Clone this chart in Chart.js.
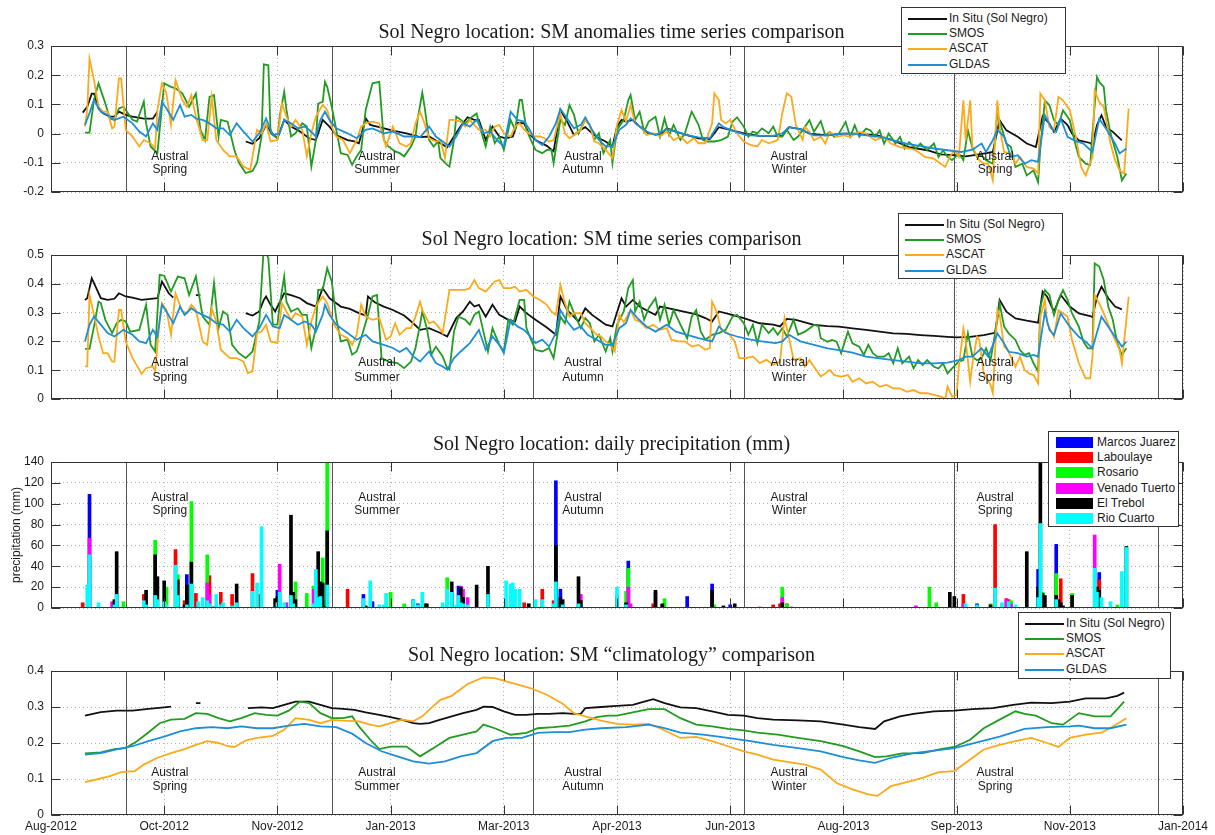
<!DOCTYPE html>
<html>
<head>
<meta charset="utf-8">
<script src="https://cdn.jsdelivr.net/npm/chart.js@4"></script>
<style>
  body { margin: 0; background: #fff; width: 1215px; height: 835px; overflow: hidden; position: relative; font-family: "Liberation Sans", Arial, sans-serif; }
  canvas { position: absolute; left: 0; }
  .title { position: absolute; left: 4px; width: 1215px; text-align: center; font-family: "Liberation Serif", "Times New Roman", serif; font-size: 20px; line-height: 22px; color: #1a1a1a; z-index: 3; }
  .legend { position: absolute; background: #fff; border: 1px solid #333; box-sizing: border-box; z-index: 5; font-size: 12px; color: #1a1a1a; }
  .legend .row { position: absolute; height: 15px; line-height: 15px; white-space: nowrap; }
  .legend .line { position: absolute; height: 2px; }
  .legend .swatch { position: absolute; height: 11px; }
</style>
</head>
<body>
<canvas id="p1" width="1215" height="200" style="top:0px"></canvas>
<canvas id="p2" width="1215" height="207" style="top:200px"></canvas>
<canvas id="p3" width="1215" height="208" style="top:408px"></canvas>
<canvas id="p4" width="1215" height="219" style="top:616px"></canvas>
<script>
// x values are days counted from 19 Aug 2012 (first tick), one tick every 50 days
const tickLabels = ['Aug-2012', 'Oct-2012', 'Nov-2012', 'Jan-2013', 'Mar-2013', 'Apr-2013',
                    'Jun-2013', 'Aug-2013', 'Sep-2013', 'Nov-2013', 'Jan-2014'];
const seasonLines = [33, 124, 213, 306, 399, 489];
const seasonLabelDays = [52.5, 144, 235, 326, 417];
const seasonNames = ['Spring', 'Summer', 'Autumn', 'Winter', 'Spring'];

const seriesNames = ['In Situ (Sol Negro)', 'SMOS', 'ASCAT', 'GLDAS'];
const seriesColors = ['#111111', '#229b22', '#fcaa1c', '#1e8ed6'];
const stationNames = ['Marcos Juarez', 'Laboulaye', 'Rosario', 'Venado Tuerto', 'El Trebol', 'Rio Cuarto'];
const stationColors = ['#0000ff', '#ff0000', '#00ff00', '#ff00ff', '#000000', '#00ffff'];

const panelTitles = ['Sol Negro location: SM anomalies time series comparison',
                     'Sol Negro location: SM time series comparison',
                     'Sol Negro location: daily precipitation (mm)',
                     'Sol Negro location: SM \u201cclimatology\u201d comparison'];

// ---- panel 1: anomalies [day, value]
const anomInSitu = [[14,0.072],[16,0.092],[18,0.137],[19,0.137],[21,0.086],[23,0.07],[26,0.058],[28,0.058],[30,0.075],[33,0.064],[36,0.058],[41,0.051],[45,0.051],[47,0.075],[48,null],[64,0.049],[65,0.049],[66,null],[86,-0.027],[89,-0.035],[92,-0.016],[95,0.03],[97,0.007],[100,-0.016],[103,0.047],[106,0.024],[110,0.007],[114,-0.016],[117,-0.022],[120,0.047],[123,0.024],[126,-0.005],[131,-0.022],[134,-0.027],[136,-0.033],[139,0.052],[141,0.03],[145,0.022],[151,0.01],[157,0.001],[163,-0.012],[167,-0.01],[172,-0.033],[175,-0.047],[178,-0.01],[181,0.026],[184,0.056],[187,0.047],[189,0.047],[192,-0.022],[195,0.024],[198,-0.01],[201,-0.016],[204,-0.01],[206,0.037],[209,0.035],[211,0.001],[214,-0.022],[219,-0.042],[222,-0.061],[225,0.081],[228,0.041],[231,-0.005],[234,0.013],[236,0.022],[239,0.001],[242,-0.016],[245,-0.027],[248,-0.044],[250,0.024],[252,0.047],[254,0.041],[257,0.047],[260,0.024],[264,0.001],[269,-0.005],[272,0.018],[276,0.007],[281,-0.005],[286,-0.016],[291,-0.019],[293,0.001],[295,0.022],[300,0.013],[306,0.001],[313,-0.008],[319,-0.008],[323,-0.008],[326,0.022],[331,0.015],[335,0],[343,-0.006],[350,0],[357,0],[365,-0.006],[372,-0.023],[379,-0.046],[387,-0.057],[393,-0.071],[399,-0.074],[404,-0.078],[410,-0.071],[416,-0.063],[419,0.046],[422,0.011],[427,-0.011],[431,-0.034],[435,-0.046],[438,0.06],[441,0.034],[443,0.006],[446,0.051],[449,0.029],[451,0],[454,-0.023],[459,-0.032],[460,-0.04],[462,0.029],[464,0.063],[466,0.023],[469,0.006],[473,-0.023]];
const anomSMOS = [[15,0.003],[17,0.003],[19,0.115],[21,0.172],[22,0.149],[24,0.103],[26,0.052],[28,0.047],[30,0.086],[32,0.092],[36,0.047],[38,0.041],[41,0.109],[42,0.035],[44,-0.044],[47,-0.067],[50,0.172],[53,0.16],[55,0.155],[58,0.138],[61,0.092],[64,0.137],[66,0.013],[68,-0.022],[70,0.126],[72,0.132],[74,-0.01],[75,0.047],[78,0.041],[81,-0.056],[83,-0.1],[86,-0.135],[89,-0.128],[91,-0.1],[93,-0.01],[94,0.237],[96,0.234],[97,0.001],[100,-0.016],[101,0.058],[103,0.143],[104,0.081],[106,-0.01],[108,0.001],[111,0.035],[113,0.024],[115,-0.113],[117,-0.022],[118,0.103],[120,0.109],[121,0.177],[122,0.16],[124,0.092],[126,0.013],[128,-0.067],[131,-0.073],[133,-0.107],[135,-0.078],[137,-0.056],[139,0.081],[142,0.172],[145,0.177],[147,-0.022],[149,-0.044],[152,-0.061],[154,-0.067],[156,-0.078],[159,-0.044],[161,-0.01],[162,0.052],[164,0.14],[165,0.092],[167,-0.022],[169,-0.044],[171,-0.027],[172,-0.084],[175,-0.107],[176,-0.113],[178,-0.022],[179,0.058],[181,0.047],[183,0.035],[186,0.058],[188,0.069],[190,0.007],[192,-0.044],[194,0.024],[196,-0.033],[198,-0.01],[200,-0.056],[203,0.047],[205,0.013],[207,0.115],[208,0.115],[210,0.013],[212,-0.022],[214,-0.056],[217,-0.067],[219,-0.056],[221,-0.056],[222,-0.101],[225,0.047],[227,0.03],[229,0.098],[231,0.064],[233,0.001],[236,0.047],[238,0.03],[240,-0.022],[242,0.001],[244,-0.067],[247,-0.022],[248,-0.101],[250,0.013],[253,0.047],[255,0.115],[256,0.132],[258,0.047],[260,0.075],[262,0.007],[264,0.041],[267,0.058],[269,-0.01],[271,0.052],[273,-0.005],[275,0.03],[278,-0.022],[280,0.001],[282,0.052],[283,0.075],[286,0.03],[288,-0.022],[290,-0.027],[293,-0.027],[296,-0.022],[299,-0.01],[301,0.041],[303,0.056],[306,0.024],[308,-0.01],[310,0.007],[312,0.001],[314,0.018],[317,0.001],[319,0.024],[321,-0.01],[323,-0.01],[325,0.013],[328,-0.022],[330,-0.01],[333,0.023],[335,0.046],[337,0.006],[340,0.043],[342,-0.006],[344,0.006],[346,-0.011],[348,0],[351,0.04],[353,-0.011],[355,0.029],[357,-0.011],[360,0.017],[362,0.011],[364,-0.011],[366,0.011],[368,-0.034],[370,0],[373,-0.034],[375,-0.011],[377,-0.051],[379,-0.029],[382,-0.051],[384,-0.034],[387,-0.057],[390,-0.034],[392,-0.08],[394,-0.057],[396,-0.08],[398,-0.091],[401,-0.068],[403,-0.091],[405,0.011],[407,-0.051],[409,-0.08],[411,-0.074],[413,-0.091],[416,-0.103],[418,0.068],[420,0.017],[422,-0.034],[424,-0.046],[426,-0.114],[429,-0.103],[431,-0.143],[434,-0.126],[436,-0.166],[437,-0.046],[439,0.114],[441,0.097],[443,0.046],[445,0.029],[447,0.08],[450,0.046],[452,-0.023],[454,-0.08],[457,-0.103],[459,-0.108],[460,0],[462,0.194],[463,0.177],[465,0.16],[466,0.08],[468,0],[471,-0.08],[473,-0.16],[475,-0.137]];
const anomASCAT = [[15,0.024],[16,0.081],[17,0.257],[19,0.183],[21,0.092],[23,0.075],[25,0.075],[27,0.018],[28,0.024],[30,0.189],[31,0.189],[33,0.013],[36,-0.01],[39,-0.044],[41,-0.022],[44,-0.033],[46,-0.05],[47,0.081],[49,0.172],[51,0.137],[53,0.03],[55,0.183],[58,0.115],[60,0.092],[62,0.132],[64,0.058],[67,-0.022],[69,-0.022],[71,0.126],[73,-0.022],[76,-0.056],[79,-0.078],[82,-0.078],[85,-0.113],[88,-0.124],[91,0.013],[93,0.001],[95,0.035],[97,-0.027],[100,-0.022],[102,0.103],[104,0.058],[106,0.024],[108,0.047],[111,0.013],[113,-0.078],[115,0.001],[117,0.058],[120,0.098],[122,0.081],[124,0.024],[126,-0.01],[129,-0.022],[132,-0.067],[135,-0.022],[137,0.024],[139,0.035],[142,0.041],[145,0.035],[148,-0.044],[151,0.024],[154,-0.033],[157,-0.044],[159,-0.033],[161,0.035],[163,0.075],[165,0.035],[167,-0.016],[170,-0.027],[172,-0.022],[174,-0.084],[176,0.047],[178,0.047],[181,0.041],[183,0.024],[185,0.047],[187,0.03],[189,0.013],[192,0.013],[194,-0.01],[196,0.024],[198,0.03],[200,0.001],[203,-0.01],[205,0.024],[207,0.035],[209,0.013],[211,0.001],[214,-0.01],[216,-0.01],[218,-0.016],[220,-0.027],[222,-0.022],[225,0.069],[227,0.001],[229,-0.016],[231,-0.005],[234,0.013],[236,0.047],[238,0.03],[240,-0.027],[242,-0.033],[245,-0.056],[248,-0.084],[250,0.03],[252,0.081],[254,0.041],[256,0.098],[258,0.035],[261,0.018],[263,-0.005],[266,0.001],[269,-0.01],[272,0.007],[275,-0.022],[278,-0.01],[281,-0.033],[284,-0.016],[286,-0.033],[289,-0.033],[292,0.035],[293,0.138],[295,0.115],[296,0.047],[298,0.035],[300,0.047],[303,0.001],[306,-0.027],[309,-0.039],[312,-0.044],[314,-0.022],[317,-0.033],[321,-0.022],[323,0.069],[325,0.138],[327,0.126],[329,0.03],[332,-0.022],[333,0.023],[335,0.006],[337,-0.023],[340,-0.011],[342,-0.034],[344,0.006],[347,-0.011],[350,-0.006],[353,-0.011],[357,0.006],[360,0],[364,-0.023],[368,-0.011],[371,-0.034],[375,-0.046],[379,-0.051],[382,-0.057],[386,-0.08],[390,-0.086],[393,-0.103],[395,-0.114],[397,-0.08],[399,-0.057],[401,-0.08],[403,0.114],[404,-0.023],[406,0.114],[407,-0.046],[410,-0.091],[412,-0.103],[414,-0.103],[416,-0.16],[418,0.114],[419,0.023],[421,-0.063],[424,-0.068],[426,-0.103],[428,-0.08],[431,-0.114],[434,-0.12],[436,-0.137],[437,0.137],[439,0.114],[441,0.023],[443,0.011],[445,0.126],[447,0.114],[450,0.08],[453,-0.023],[455,-0.114],[457,-0.143],[460,-0.08],[461,0.148],[463,0.108],[465,0.091],[468,-0.034],[470,-0.091],[472,-0.126],[474,-0.137],[476,0.086]];
const anomGLDAS = [[15,0.03],[17,0.07],[19,0.115],[22,0.075],[25,0.064],[28,0.047],[32,0.058],[36,0.035],[39,0.007],[42,-0.01],[45,0.035],[47,0.013],[49,0.109],[51,0.086],[54,0.047],[57,0.098],[59,0.058],[62,0.064],[64,0.052],[67,0.047],[70,0.035],[73,0.018],[76,0.018],[79,-0.005],[82,0.035],[85,0.007],[89,-0.027],[92,0.001],[95,0.052],[98,-0.005],[101,0.001],[103,0.047],[106,0.035],[109,0.018],[112,0.024],[114,0.013],[117,-0.01],[119,0.047],[121,0.075],[123,0.047],[126,0.018],[131,0.001],[135,-0.016],[139,0.013],[142,0.018],[147,0.001],[151,0.007],[156,-0.01],[160,-0.01],[163,-0.013],[167,0.024],[170,-0.01],[174,-0.033],[176,-0.044],[179,-0.01],[182,0.035],[185,0.024],[188,0.047],[191,0.001],[194,0.007],[197,-0.022],[200,-0.044],[202,0.035],[203,0.075],[206,0.047],[209,0.041],[211,0.018],[214,-0.022],[217,-0.039],[220,-0.01],[223,0.035],[225,0.084],[228,0.052],[231,0.018],[234,0.03],[236,0.056],[239,0.013],[242,-0.022],[245,-0.044],[248,-0.044],[251,0.013],[254,0.03],[256,0.052],[259,0.03],[263,0.007],[267,-0.005],[272,0.015],[276,0.007],[281,-0.005],[286,-0.013],[291,-0.016],[295,0.035],[297,0.022],[301,0.01],[307,-0.005],[313,-0.008],[319,-0.008],[323,0.001],[326,0.022],[331,0.015],[337,-0.006],[343,-0.006],[349,0],[354,0],[360,-0.006],[366,-0.011],[372,-0.023],[378,-0.034],[384,-0.043],[390,-0.051],[396,-0.057],[402,-0.063],[407,-0.055],[411,-0.034],[413,-0.063],[416,-0.023],[418,0.014],[421,-0.011],[424,-0.08],[427,-0.074],[430,-0.103],[433,-0.091],[436,-0.097],[439,0.063],[442,0.017],[444,0.006],[446,0.051],[449,-0.011],[452,-0.023],[456,-0.034],[460,-0.063],[463,0.051],[466,0.017],[470,-0.034],[472,-0.068],[475,-0.051]];

// ---- panel 2: soil moisture [day, value]
const smInSitu = [[15,0.344],[16,0.35],[18,0.419],[20,0.385],[22,0.35],[25,0.344],[28,0.348],[30,0.367],[33,0.356],[36,0.352],[40,0.344],[44,0.348],[47,0.35],[49,0.408],[52,0.367],[54,0.352],[55,null],[64,0.361],[66,0.361],[67,null],[86,0.298],[89,0.29],[92,0.304],[94,0.344],[95,0.356],[97,0.327],[99,0.304],[103,0.367],[106,0.361],[110,0.35],[113,0.333],[117,0.321],[120,0.385],[123,0.35],[128,0.321],[132,0.313],[136,0.298],[139,0.29],[140,0.356],[143,0.336],[147,0.321],[151,0.309],[156,0.29],[160,0.263],[163,0.24],[167,0.246],[172,0.229],[175,0.217],[179,0.281],[182,0.304],[185,0.338],[187,0.321],[189,0.327],[192,0.286],[195,0.327],[198,0.292],[202,0.275],[205,0.269],[207,0.321],[210,0.298],[214,0.275],[219,0.248],[223,0.223],[225,0.356],[228,0.309],[233,0.269],[236,0.315],[239,0.292],[242,0.275],[245,0.258],[248,0.252],[252,0.35],[254,0.321],[257,0.344],[260,0.321],[264,0.304],[267,0.292],[269,0.321],[273,0.315],[279,0.304],[285,0.294],[289,0.281],[292,0.269],[295,0.304],[300,0.294],[306,0.281],[313,0.263],[319,0.258],[322,0.252],[325,0.278],[329,0.275],[337,0.257],[343,0.253],[348,0.251],[354,0.245],[360,0.24],[366,0.234],[372,0.228],[378,0.226],[384,0.222],[390,0.219],[396,0.216],[400,0.214],[406,0.216],[412,0.222],[417,0.23],[419,0.344],[422,0.303],[426,0.28],[431,0.272],[436,0.265],[438,0.373],[440,0.355],[443,0.303],[446,0.361],[450,0.321],[454,0.297],[459,0.288],[460,0.284],[462,0.355],[464,0.39],[467,0.35],[470,0.321],[473,0.311]];
const smSMOS = [[15,0.174],[17,0.174],[19,0.252],[21,0.338],[22,0.333],[24,0.275],[27,0.229],[29,0.263],[31,0.275],[33,0.269],[35,0.234],[39,0.24],[42,0.327],[44,0.188],[46,0.165],[48,0.431],[50,0.428],[53,0.373],[56,0.425],[59,0.419],[61,0.361],[64,0.425],[67,0.286],[70,0.258],[72,0.402],[74,0.246],[76,0.304],[78,0.292],[80,0.188],[83,0.159],[86,0.142],[89,0.165],[92,0.269],[94,0.53],[96,0.488],[98,0.258],[100,0.258],[101,0.327],[103,0.425],[104,0.338],[106,0.304],[109,0.315],[111,0.292],[113,0.292],[115,0.177],[117,0.246],[118,0.379],[120,0.379],[122,0.454],[124,0.408],[126,0.281],[128,0.2],[131,0.206],[133,0.154],[135,0.165],[137,0.211],[140,0.292],[142,0.356],[144,0.361],[146,0.142],[149,0.13],[153,0.125],[156,0.107],[159,0.13],[161,0.177],[163,0.258],[164,0.304],[166,0.246],[168,0.154],[170,0.182],[173,0.148],[175,0.107],[176,0.102],[178,0.234],[180,0.286],[183,0.275],[185,0.258],[187,0.292],[189,0.304],[191,0.234],[193,0.165],[195,0.246],[198,0.188],[200,0.165],[202,0.275],[204,0.258],[207,0.344],[209,0.344],[210,0.246],[212,0.206],[214,0.171],[217,0.165],[220,0.177],[222,0.142],[225,0.286],[227,0.263],[229,0.338],[231,0.298],[234,0.246],[236,0.281],[238,0.263],[240,0.2],[242,0.223],[245,0.165],[247,0.211],[248,0.165],[250,0.258],[253,0.304],[255,0.385],[257,0.413],[258,0.304],[260,0.338],[262,0.275],[264,0.315],[267,0.35],[269,0.275],[271,0.327],[273,0.258],[275,0.309],[278,0.258],[281,0.211],[283,0.286],[285,0.309],[287,0.234],[289,0.206],[292,0.223],[295,0.229],[298,0.24],[301,0.286],[303,0.292],[306,0.263],[308,0.223],[310,0.258],[312,0.194],[314,0.258],[317,0.229],[319,0.246],[321,0.223],[323,0.246],[325,0.217],[328,0.275],[330,0.223],[333,0.234],[335,0.245],[337,0.257],[339,0.253],[340,0.211],[343,0.199],[345,0.205],[347,0.199],[349,0.159],[352,0.234],[354,0.193],[357,0.182],[359,0.153],[361,0.188],[363,0.159],[365,0.147],[368,0.147],[370,0.159],[372,0.124],[374,0.176],[376,0.124],[379,0.147],[381,0.106],[383,0.135],[385,0.118],[387,0.135],[390,0.112],[392,0.106],[394,0.124],[396,0.089],[398,0.106],[401,0.13],[403,0.135],[405,0.228],[407,0.147],[409,0.135],[411,0.141],[413,0.176],[415,0.135],[418,0.274],[419,0.332],[421,0.251],[423,0.228],[426,0.205],[428,0.17],[430,0.153],[432,0.159],[434,0.124],[436,0.095],[437,0.321],[439,0.378],[441,0.361],[443,0.292],[445,0.344],[447,0.378],[449,0.344],[451,0.297],[454,0.251],[456,0.199],[458,0.176],[460,0.176],[461,0.471],[463,0.46],[465,0.413],[467,0.321],[469,0.274],[471,0.193],[473,0.153],[475,0.176]];
const smASCAT = [[15,0.113],[16,0.113],[17,0.361],[19,0.292],[21,0.217],[23,0.159],[25,0.159],[27,0.13],[28,0.13],[30,0.309],[31,0.309],[33,0.2],[36,0.142],[39,0.102],[40,0.087],[42,0.107],[45,0.113],[46,0.096],[48,0.275],[49,0.333],[51,0.309],[53,0.223],[55,0.367],[58,0.304],[60,0.298],[62,0.327],[64,0.309],[67,0.2],[69,0.188],[71,0.315],[73,0.269],[75,0.171],[79,0.142],[82,0.142],[85,0.13],[87,0.09],[89,0.096],[91,0.229],[93,0.234],[95,0.258],[97,0.2],[100,0.194],[102,0.333],[104,0.304],[106,0.275],[108,0.298],[111,0.286],[113,0.188],[115,0.269],[117,0.321],[120,0.356],[122,0.333],[125,0.258],[128,0.223],[131,0.211],[133,0.188],[135,0.223],[137,0.327],[139,0.286],[142,0.275],[145,0.281],[148,0.206],[150,0.217],[152,0.263],[154,0.223],[157,0.246],[159,0.246],[161,0.286],[163,0.338],[164,0.309],[167,0.263],[169,0.269],[171,0.252],[173,0.229],[176,0.379],[179,0.379],[183,0.379],[185,0.385],[187,0.413],[189,0.385],[192,0.373],[194,0.39],[196,0.408],[198,0.413],[200,0.385],[203,0.385],[205,0.39],[207,0.373],[210,0.379],[213,0.356],[216,0.344],[219,0.327],[221,0.304],[223,0.292],[225,0.396],[227,0.333],[229,0.286],[231,0.298],[234,0.298],[236,0.263],[239,0.24],[241,0.223],[243,0.217],[245,0.2],[247,0.188],[249,0.165],[251,0.292],[253,0.266],[256,0.309],[258,0.275],[260,0.269],[263,0.246],[266,0.258],[269,0.24],[272,0.246],[274,0.206],[277,0.2],[280,0.2],[283,0.182],[286,0.188],[289,0.171],[291,0.177],[292,0.338],[294,0.304],[296,0.24],[299,0.229],[302,0.2],[304,0.142],[307,0.142],[310,0.148],[313,0.125],[316,0.136],[319,0.119],[322,0.13],[324,0.281],[326,0.211],[328,0.136],[331,0.141],[333,0.112],[335,0.135],[337,0.112],[340,0.078],[342,0.089],[344,0.101],[346,0.083],[349,0.078],[352,0.083],[354,0.06],[357,0.072],[360,0.054],[363,0.06],[366,0.043],[369,0.049],[372,0.037],[375,0.037],[378,0.025],[381,0.031],[384,0.02],[387,0.02],[390,0.014],[393,0.008],[395,0],[396,0.043],[398,0.008],[400,0.014],[401,0.112],[403,0.245],[404,0.205],[406,0.06],[407,0.124],[409,0.216],[410,0.205],[412,0.089],[415,0.049],[416,0.02],[418,0.309],[419,0.292],[421,0.182],[423,0.164],[426,0.112],[428,0.147],[430,0.101],[432,0.089],[434,0.083],[436,0.054],[437,0.286],[439,0.344],[440,0.263],[443,0.216],[445,0.309],[447,0.297],[449,0.286],[451,0.205],[454,0.124],[457,0.072],[459,0.072],[460,0.147],[461,0.361],[463,0.332],[465,0.297],[468,0.24],[470,0.205],[472,0.17],[473,0.124],[476,0.355]];
const smGLDAS = [[15,0.2],[17,0.258],[19,0.286],[22,0.258],[25,0.229],[28,0.217],[32,0.24],[36,0.223],[39,0.2],[42,0.194],[45,0.24],[47,0.217],[49,0.327],[51,0.304],[54,0.263],[57,0.321],[59,0.292],[62,0.315],[64,0.304],[67,0.292],[70,0.281],[73,0.263],[76,0.258],[79,0.234],[82,0.275],[85,0.246],[89,0.217],[92,0.246],[95,0.292],[98,0.252],[101,0.246],[103,0.292],[106,0.275],[109,0.258],[112,0.269],[115,0.258],[117,0.234],[120,0.292],[121,0.327],[123,0.292],[126,0.258],[131,0.229],[135,0.206],[139,0.223],[142,0.2],[147,0.188],[151,0.177],[154,0.163],[157,0.177],[160,0.148],[163,0.13],[167,0.165],[170,0.125],[173,0.113],[175,0.102],[178,0.142],[181,0.165],[185,0.194],[189,0.24],[192,0.171],[195,0.217],[198,0.188],[200,0.159],[203,0.275],[206,0.252],[209,0.24],[211,0.223],[214,0.194],[217,0.206],[220,0.182],[223,0.229],[225,0.309],[228,0.269],[231,0.24],[234,0.252],[237,0.223],[241,0.206],[245,0.188],[248,0.188],[251,0.246],[254,0.263],[256,0.309],[259,0.281],[263,0.252],[267,0.234],[272,0.258],[276,0.234],[281,0.223],[286,0.211],[292,0.2],[295,0.252],[298,0.229],[303,0.217],[309,0.206],[314,0.2],[320,0.194],[323,0.2],[326,0.223],[331,0.2],[337,0.188],[343,0.176],[348,0.17],[354,0.161],[360,0.147],[366,0.141],[372,0.135],[378,0.13],[384,0.124],[390,0.124],[396,0.126],[401,0.135],[404,0.147],[407,0.147],[411,0.176],[414,0.147],[418,0.228],[421,0.193],[423,0.164],[427,0.159],[431,0.147],[434,0.153],[436,0.147],[439,0.303],[441,0.24],[443,0.222],[446,0.297],[450,0.251],[454,0.216],[457,0.199],[460,0.176],[464,0.286],[467,0.251],[470,0.216],[473,0.182],[475,0.199]];

// ---- panel 3: daily precipitation per station [day, mm]
const precipMarcosJuarez = [[17,109],[60,32],[100,17],[138,13],[142,6],[160,8],[162,4],[180,21],[223,122],[225,18],[255,45],[281,11],[292,23],[300,3],[409,4],[436,37],[444,61],[463,34]];
const precipLaboulaye = [[14,5],[41,13],[55,56],[59,7],[64,14],[70,31],[75,15],[80,13],[89,33],[92,13],[131,18],[203,6],[209,5],[217,18],[222,7],[266,4],[319,3],[322,4],[325,4],[403,13],[417,80],[422,9],[423,8],[446,28],[463,27]];
const precipRosario = [[32,6],[42,2],[46,65],[51,20],[56,32],[62,102],[69,51],[108,25],[113,14],[116,21],[120,48],[121,7],[122,145],[150,15],[156,4],[175,29],[211,4],[254,16],[255,38],[271,9],[293,3],[323,20],[325,4],[388,20],[391,5],[415,4],[423,5],[424,7],[438,15],[444,33],[451,14],[471,3]];
const precipVenadoTuerto = [[17,67],[27,6],[69,24],[70,13],[101,42],[104,5],[116,18],[181,21],[182,18],[184,10],[234,13],[250,12],[255,20],[256,4],[267,15],[270,3],[313,1],[323,10],[327,1],[382,2],[403,4],[422,8],[424,4],[461,70]];
const precipElTrebol = [[28,8],[29,54],[42,17],[46,51],[47,30],[50,26],[56,27],[59,3],[60,22],[62,44],[72,1],[82,23],[99,9],[100,11],[106,89],[107,15],[108,8],[117,5],[118,54],[119,25],[120,24],[121,2],[122,74],[139,2],[165,4],[166,4],[177,25],[181,20],[182,10],[188,22],[193,40],[211,4],[223,60],[225,10],[226,8],[233,30],[234,7],[250,10],[254,5],[267,17],[270,4],[292,17],[297,2],[302,4],[323,5],[397,15],[399,11],[409,3],[415,3],[431,54],[436,20],[437,145],[438,14],[439,12],[444,12],[445,8],[446,5],[447,2],[451,12],[462,20],[463,17],[475,59]];
const precipRioCuarto = [[16,22],[17,51],[21,5],[28,3],[29,13],[41,7],[42,3],[46,12],[47,8],[50,6],[51,3],[55,41],[56,12],[60,3],[62,23],[65,6],[67,10],[69,7],[70,4],[73,13],[75,3],[76,5],[80,2],[82,5],[89,16],[91,24],[93,78],[100,5],[101,15],[103,5],[106,12],[107,4],[116,4],[117,37],[118,10],[119,11],[122,22],[138,9],[141,26],[145,3],[147,3],[148,14],[160,8],[162,3],[164,15],[173,5],[175,18],[177,15],[179,3],[180,12],[181,5],[182,4],[184,3],[193,13],[201,26],[203,23],[204,24],[205,18],[207,18],[214,8],[217,8],[222,4],[223,25],[226,3],[233,4],[250,20],[254,3],[404,4],[409,3],[417,19],[420,5],[423,6],[426,3],[436,10],[437,81],[444,8],[461,38],[462,15],[464,10],[468,6],[473,35],[475,58]];

// ---- panel 4: climatology [day, value]
const climInSitu = [[15,0.276],[22,0.286],[29,0.29],[36,0.29],[43,0.295],[50,0.299],[53,0.301],[54,null],[64,0.311],[66,0.311],[67,null],[87,0.297],[93,0.299],[98,0.297],[103,0.306],[108,0.315],[114,0.315],[119,0.306],[124,0.297],[129,0.295],[134,0.292],[139,0.285],[145,0.278],[150,0.272],[155,0.265],[160,0.255],[163,0.253],[167,0.255],[172,0.265],[177,0.274],[182,0.283],[188,0.292],[191,0.301],[195,0.3],[200,0.288],[205,0.278],[210,0.278],[215,0.281],[220,0.281],[226,0.283],[231,0.281],[234,0.281],[236,0.297],[243,0.3],[250,0.303],[257,0.306],[262,0.315],[266,0.322],[271,0.311],[278,0.299],[285,0.297],[292,0.288],[299,0.278],[306,0.276],[312,0.269],[319,0.265],[330,0.263],[340,0.26],[350,0.251],[357,0.244],[364,0.239],[368,0.26],[375,0.274],[381,0.281],[390,0.288],[399,0.29],[407,0.294],[416,0.297],[425,0.306],[433,0.312],[442,0.311],[450,0.315],[457,0.324],[466,0.324],[471,0.331],[474,0.34]];
const climSMOS = [[15,0.171],[22,0.174],[28,0.183],[33,0.186],[38,0.205],[43,0.229],[48,0.255],[53,0.265],[59,0.267],[64,0.283],[69,0.281],[74,0.269],[79,0.26],[84,0.269],[90,0.283],[95,0.278],[100,0.276],[105,0.29],[110,0.315],[114,0.311],[119,0.283],[124,0.269],[129,0.269],[133,0.274],[136,0.246],[141,0.209],[145,0.183],[150,0.19],[157,0.19],[163,0.163],[169,0.186],[176,0.214],[182,0.223],[188,0.232],[191,0.251],[196,0.241],[203,0.223],[210,0.228],[215,0.241],[222,0.244],[229,0.248],[236,0.26],[241,0.272],[246,0.276],[250,0.276],[257,0.285],[264,0.294],[271,0.294],[278,0.269],[285,0.251],[292,0.246],[299,0.239],[306,0.235],[312,0.229],[321,0.223],[330,0.214],[340,0.205],[350,0.191],[357,0.177],[364,0.161],[369,0.163],[376,0.171],[385,0.172],[393,0.183],[399,0.189],[406,0.209],[412,0.241],[419,0.265],[426,0.288],[430,0.281],[435,0.276],[442,0.255],[447,0.251],[454,0.283],[461,0.274],[468,0.274],[471,0.294],[474,0.315]];
const climASCAT = [[15,0.091],[21,0.1],[26,0.108],[31,0.119],[37,0.122],[41,0.14],[47,0.159],[53,0.172],[59,0.183],[64,0.195],[69,0.205],[74,0.2],[78,0.191],[81,0.189],[86,0.207],[91,0.214],[98,0.22],[103,0.237],[108,0.269],[114,0.264],[119,0.255],[124,0.264],[129,0.262],[136,0.26],[141,0.251],[145,0.246],[150,0.255],[155,0.265],[160,0.26],[164,0.274],[167,0.292],[172,0.32],[177,0.331],[184,0.364],[191,0.382],[196,0.38],[201,0.371],[207,0.361],[212,0.352],[219,0.334],[226,0.309],[231,0.283],[236,0.274],[243,0.262],[250,0.253],[257,0.251],[264,0.253],[269,0.241],[278,0.214],[285,0.217],[292,0.205],[299,0.191],[306,0.177],[312,0.168],[319,0.154],[326,0.147],[333,0.14],[340,0.126],[347,0.089],[354,0.071],[361,0.057],[365,0.053],[371,0.08],[378,0.091],[385,0.103],[392,0.119],[399,0.122],[406,0.154],[412,0.182],[419,0.195],[426,0.205],[433,0.214],[440,0.2],[445,0.189],[450,0.214],[457,0.223],[464,0.229],[469,0.246],[475,0.269]];
const climGLDAS = [[15,0.168],[22,0.172],[29,0.182],[36,0.191],[43,0.205],[50,0.218],[57,0.232],[64,0.241],[71,0.244],[78,0.241],[84,0.246],[91,0.241],[98,0.241],[105,0.248],[112,0.253],[119,0.246],[126,0.244],[133,0.226],[139,0.2],[146,0.177],[153,0.163],[160,0.149],[167,0.143],[174,0.149],[181,0.163],[188,0.172],[195,0.205],[201,0.214],[208,0.214],[215,0.228],[222,0.23],[229,0.23],[236,0.237],[243,0.241],[254,0.244],[264,0.251],[271,0.241],[278,0.229],[288,0.223],[299,0.214],[309,0.205],[319,0.195],[330,0.186],[340,0.177],[350,0.161],[357,0.152],[364,0.145],[371,0.159],[381,0.172],[392,0.18],[399,0.186],[409,0.202],[419,0.218],[430,0.239],[440,0.244],[450,0.246],[454,0.248],[461,0.241],[468,0.241],[475,0.251]];

const FONT = '"Liberation Sans", Arial, sans-serif';

function xy(arr) {
    return arr.map(p => ({ x: p[0], y: p[1] }));
}

// box, season lines, season labels and inward ticks like the matlab original
const matlabFrame = {
    id: 'matlabFrame',
    beforeDatasetsDraw(chart) {
        const { ctx, chartArea: a, scales: { x } } = chart;
        ctx.save();
        ctx.strokeStyle = '#555';
        ctx.lineWidth = 1;
        seasonLines.forEach(d => {
            const px = Math.round(x.getPixelForValue(d)) + 0.5;
            ctx.beginPath();
            ctx.moveTo(px, a.top);
            ctx.lineTo(px, a.bottom);
            ctx.stroke();
        });
        ctx.restore();
    },
    afterDatasetsDraw(chart, args, opts) {
        const { ctx, chartArea: a, scales: { x, y } } = chart;
        ctx.save();
        ctx.font = '12px ' + FONT;
        ctx.fillStyle = '#1a1a1a';
        ctx.textAlign = 'center';
        ctx.textBaseline = 'middle';
        seasonLabelDays.forEach((d, i) => {
            const px = x.getPixelForValue(d);
            ctx.fillText('Austral', px, y.getPixelForValue(opts.labelY[0]));
            ctx.fillText(seasonNames[i], px, y.getPixelForValue(opts.labelY[1]));
        });

        const L = Math.round(a.left) + 0.5, R = Math.round(a.right) - 0.5;
        const T = Math.round(a.top) + 0.5, B = Math.round(a.bottom) - 0.5;
        ctx.strokeStyle = '#333';
        ctx.lineWidth = 1;
        ctx.strokeRect(L, T, R - L, B - T);
        const tl = 9;
        ctx.beginPath();
        x.ticks.forEach(t => {
            const px = Math.round(x.getPixelForValue(t.value)) + 0.5;
            ctx.moveTo(px, T); ctx.lineTo(px, T + tl);
            ctx.moveTo(px, B); ctx.lineTo(px, B - tl);
        });
        y.ticks.forEach(t => {
            const py = Math.round(y.getPixelForValue(t.value)) + 0.5;
            ctx.moveTo(L, py); ctx.lineTo(L + tl, py);
            ctx.moveTo(R, py); ctx.lineTo(R - tl, py);
        });
        ctx.stroke();
        ctx.restore();
    }
};

function makePanel(id, type, datasets, cfg) {
    const grid = { color: '#b4b4b4', lineWidth: 1, drawTicks: false, offset: false };
    return new Chart(document.getElementById(id), {
        type: type,
        data: { datasets: datasets },
        options: {
            responsive: false,
            animation: false,
            devicePixelRatio: 1,
            layout: { padding: { top: cfg.padTop, right: 32, left: 0, bottom: 0 } },
            plugins: {
                legend: { display: false },
                tooltip: { enabled: false },
                matlabFrame: { labelY: cfg.labelY }
            },
            scales: {
                x: {
                    type: 'linear', min: 0, max: 500, offset: false,
                    afterFit: s => { s.height = cfg.xAxisH; s.paddingLeft = 0; s.paddingRight = 0; },
                    ticks: {
                        stepSize: 50, autoSkip: false, maxRotation: 0, display: cfg.showX, padding: 4,
                        color: '#1a1a1a', font: { family: FONT, size: 12 },
                        callback: (v, i) => tickLabels[i]
                    },
                    grid: grid,
                    border: { display: false, dash: [1, 3] }
                },
                y: {
                    min: cfg.yMin, max: cfg.yMax,
                    afterFit: s => { s.width = 51; s.paddingTop = 0; s.paddingBottom = 0; },
                    ticks: {
                        stepSize: cfg.yStep, padding: 7, color: '#1a1a1a', font: { family: FONT, size: 12 },
                        callback: v => String(+v.toFixed(1))
                    },
                    title: cfg.yTitle ? {
                        display: true, text: cfg.yTitle, color: '#1a1a1a',
                        font: { family: FONT, size: 12 }, padding: { top: 9, bottom: 0 }
                    } : { display: false },
                    grid: grid,
                    border: { display: false, dash: [1, 3] }
                }
            }
        },
        plugins: [matlabFrame]
    });
}

function lineSets(series) {
    return series.map((arr, i) => ({
        label: seriesNames[i],
        data: xy(arr),
        borderColor: seriesColors[i],
        borderWidth: 1.8,
        pointRadius: 0,
        tension: 0,
        spanGaps: false,
        fill: false,
        order: series.length - i
    }));
}

const stations = [precipMarcosJuarez, precipLaboulaye, precipRosario, precipVenadoTuerto, precipElTrebol, precipRioCuarto];
const precipSets = stations.map((arr, i) => ({
    label: stationNames[i],
    data: xy(arr),
    backgroundColor: stationColors[i],
    borderWidth: 0,
    barThickness: 3,
    grouped: false,
    order: stations.length - i
}));

makePanel('p1', 'line', lineSets([anomInSitu, anomSMOS, anomASCAT, anomGLDAS]),
    { padTop: 46, xAxisH: 8, showX: false, yMin: -0.2, yMax: 0.3, yStep: 0.1, labelY: [-0.079, -0.124] });
makePanel('p2', 'line', lineSets([smInSitu, smSMOS, smASCAT, smGLDAS]),
    { padTop: 55, xAxisH: 8, showX: false, yMin: 0, yMax: 0.5, yStep: 0.1, labelY: [0.127, 0.075] });
makePanel('p3', 'bar', precipSets,
    { padTop: 54, xAxisH: 8, showX: false, yMin: 0, yMax: 140, yStep: 20, labelY: [106, 93], yTitle: 'precipitation (mm)' });
makePanel('p4', 'line', lineSets([climInSitu, climSMOS, climASCAT, climGLDAS]),
    { padTop: 55, xAxisH: 20, showX: true, yMin: 0, yMax: 0.4, yStep: 0.1, labelY: [0.117, 0.078] });

// titles
const titleCenters = [31, 238, 443, 654];
panelTitles.forEach((t, i) => {
    const d = document.createElement('div');
    d.className = 'title';
    d.style.top = (titleCenters[i] - 11) + 'px';
    d.textContent = t;
    document.body.appendChild(d);
});

// legends
const legendBoxes = [
    { left: 901, top: 7, width: 165, height: 67, kind: 'line' },
    { left: 898, top: 213, width: 165, height: 66, kind: 'line' },
    { left: 1048, top: 431, width: 131, height: 96, kind: 'bar' },
    { left: 1018, top: 612, width: 153, height: 67, kind: 'line' }
];
legendBoxes.forEach(b => {
    const box = document.createElement('div');
    box.className = 'legend';
    Object.assign(box.style, { left: b.left + 'px', top: b.top + 'px', width: b.width + 'px', height: b.height + 'px' });
    const names = b.kind === 'bar' ? stationNames : seriesNames;
    const colors = b.kind === 'bar' ? stationColors : seriesColors;
    names.forEach((n, i) => {
        const rowTop = 3 + i * 15.2;
        const mark = document.createElement('div');
        if (b.kind === 'bar') {
            mark.className = 'swatch';
            Object.assign(mark.style, { left: '7px', top: (rowTop + 2) + 'px', width: '37px', background: colors[i] });
        } else {
            mark.className = 'line';
            Object.assign(mark.style, { left: '6px', top: (rowTop + 7) + 'px', width: '39px', background: colors[i] });
        }
        box.appendChild(mark);
        const txt = document.createElement('div');
        txt.className = 'row';
        Object.assign(txt.style, { left: (b.kind === 'bar' ? 48 : 47) + 'px', top: rowTop + 'px' });
        txt.textContent = n;
        box.appendChild(txt);
    });
    document.body.appendChild(box);
});
</script>
</body>
</html>
